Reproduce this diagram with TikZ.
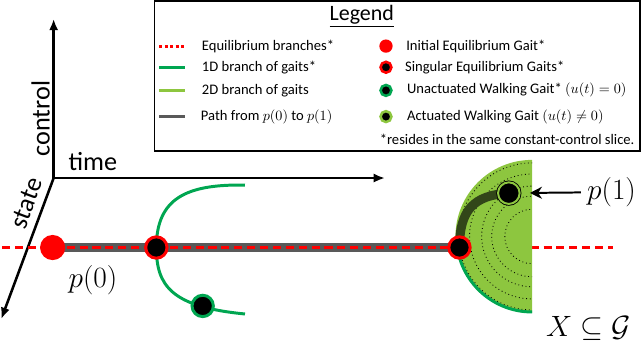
\documentclass[tikz,border=0pt]{standalone}
\usepackage[no-math]{fontspec}
\setmainfont{Carlito}
\usepackage{xcolor}
\definecolor{eqred}{RGB}{255, 0, 0}
\definecolor{gait1d}{RGB}{0, 166, 81}
\definecolor{gait2d}{RGB}{141, 198, 63}
\definecolor{pathgrey}{RGB}{89, 89, 89}
\definecolor{pathdark}{RGB}{50, 70, 25}
\usepackage{tikz}
\usetikzlibrary{positioning, arrows.meta}

\begin{document}
\begin{tikzpicture}[x=0.025cm, y=-0.025cm]

  \tikzstyle{axisline} = [line width=1.8pt, -{Latex[length=8pt, width=6.5pt]}]
  \tikzstyle{bigword} = [font=\fontsize{18.5}{20}\selectfont, inner sep=0pt]
  \tikzstyle{bigmath} = [font=\fontsize{20}{24}\selectfont, inner sep=0pt]
  \tikzstyle{eqbranch} = [eqred, line width=2.1pt, dash pattern=on 5.7pt off 3.4pt]
  \tikzstyle{branchone} = [gait1d, line width=2.1pt]
  \tikzstyle{gaitpath} = [pathgrey, line width=6.4pt]
  \tikzstyle{walkpath} = [pathdark, line width=6.4pt]
  \tikzstyle{levelset} = [black, line width=0.6pt, dotted]
  \tikzstyle{eqinit} = [circle, fill=eqred, minimum size=0.625cm, inner sep=0pt]
  \tikzstyle{eqsing} = [circle, fill=black, draw=eqred, line width=2.1pt,
    minimum size=0.53cm, inner sep=0pt]
  \tikzstyle{unact} = [circle, fill=black, draw=gait1d, line width=2.1pt,
    minimum size=0.53cm, inner sep=0pt]
  \tikzstyle{actgait} = [circle, fill=black, draw=black, double=gait2d,
    double distance=1.4pt, line width=0.6pt, minimum size=0.535cm, inner sep=0pt]
  \tikzstyle{pointer} = [line width=1.4pt, -{Stealth[length=8.5pt, width=8.5pt]},
    shorten >=7pt]
  \tikzstyle{legtext} = [font=\fontsize{10.3}{12}\selectfont, inner sep=0pt]
  \tikzstyle{keyline} = [line width=2.1pt]
  \tikzstyle{keydot} = [circle, minimum size=0.27cm, inner sep=0pt,
    fill=black, line width=1.8pt]

  % axes
  \coordinate (origin) at (58,178);
  \coordinate (ctrltip) at (58,20);
  \coordinate (timetip) at (387,178);
  \coordinate (statetip) at (6,318);
  \draw[axisline] (origin) -- (ctrltip);
  \draw[axisline] (origin) -- (timetip);
  \draw[axisline] (origin) -- (statetip);
  \node[bigword, rotate=90] (ctrlword) at (45,119) {control};
  \node[bigword] (timeword) at (97,162) {time};
  \node[bigword, rotate=69.6] (stateword) at (31,203) {state};

  % gaits
  \coordinate (p0) at (57,247);
  \coordinate (s1) at (160,247);
  \coordinate (s2) at (461,247);
  \coordinate (g1) at (206,305);
  \coordinate (p1) at (510,193);
  \coordinate (disk) at (533,236);
  \coordinate (eqleft) at (7,247);
  \coordinate (eqright) at (613,247);
  \coordinate (b1top) at (248,185);
  \coordinate (b1bot) at (248,313);

  \draw[gaitpath] (p0) -- (s2);
  \draw[eqbranch] (eqleft) -- (eqright);
  \draw[branchone] (b1top) .. controls (190,184) and (160,198) .. (s1)
    .. controls (160,285) and (175,306) .. (b1bot);

  \begin{scope}
    \clip (440,150) rectangle (533,330);
    \fill[gait2d] (disk) circle[radius=76];
    \foreach \r in {73,62,50,40,27}
      \draw[levelset] (disk) circle[radius=\r];
  \end{scope}
  \begin{scope}
    \clip (440,247) rectangle (533,330);
    \draw[branchone] (disk) circle[radius=75];
  \end{scope}

  \draw[walkpath] (s2) .. controls (461,210) and (475,195) .. (p1);

  \node[eqinit] (p0dot) at (p0) {};
  \node[eqsing] (s1dot) at (s1) {};
  \node[eqsing] (s2dot) at (s2) {};
  \node[unact] (g1dot) at (g1) {};
  \node[actgait] (p1dot) at (p1) {};

  \node[bigmath] (p0lab) at (97,279) {$p(0)$};
  \node[bigmath, inner sep=4.3pt] (p1lab) at (612,192) {$p(1)$};
  \node[bigmath, font=\fontsize{21}{24}\selectfont] (xglab) at (589,327)
    {$X\subseteq\mathcal{G}$};
  \draw[pointer] (p1lab) -- (p1dot);

  % legend
  \draw[line width=1.1pt] (158,2) rectangle (640,151);
  \node[font=\fontsize{15.5}{18}\selectfont, inner sep=0pt] (lgtitle) at (364,17)
    {\underline{Legend}};

  \coordinate (k1a) at (163,47);  \coordinate (k1b) at (188,47);
  \coordinate (k2a) at (163,68);  \coordinate (k2b) at (188,68);
  \coordinate (k3a) at (163,91);  \coordinate (k3b) at (188,91);
  \coordinate (k4a) at (163,117); \coordinate (k4b) at (188,117);
  \draw[keyline, eqred, dash pattern=on 2.1pt off 1.7pt] (k1a) -- (k1b);
  \draw[keyline, gait1d] (k2a) -- (k2b);
  \draw[keyline, gait2d] (k3a) -- (k3b);
  \draw[keyline, pathgrey] (k4a) -- (k4b);
  \node[legtext, right=0.425cm of k1b] (t1) {Equilibrium branches*};
  \node[legtext, right=0.425cm of k2b] (t2) {1D branch of gaits*};
  \node[legtext, right=0.425cm of k3b] (t3) {2D branch of gaits};
  \node[legtext, right=0.4cm of k4b] (t4) {Path from $p(0)$ to $p(1)$};

  \node[keydot, fill=eqred, minimum size=0.33cm] (d1) at (388,47) {};
  \node[keydot, draw=eqred] (d2) at (388,68) {};
  \node[keydot, draw=gait1d] (d3) at (388,91) {};
  \node[keydot, draw=gait2d] (d4) at (388,117) {};
  \node[legtext, right=0.3cm of d1] (u1) {Initial Equilibrium Gait*};
  \node[legtext, right=0.3cm of d2] (u2) {Singular Equilibrium Gaits*};
  \node[legtext, right=0.35cm of d3] (u3) {Unactuated Walking Gait* $(u(t)=0)$};
  \node[legtext, right=0.35cm of d4] (u4) {Actuated Walking Gait $(u(t)\neq0)$};
  \node[legtext, anchor=east] (fnote) at (635,140)
    {*resides in the same constant-control slice.};

\end{tikzpicture}
\end{document}
